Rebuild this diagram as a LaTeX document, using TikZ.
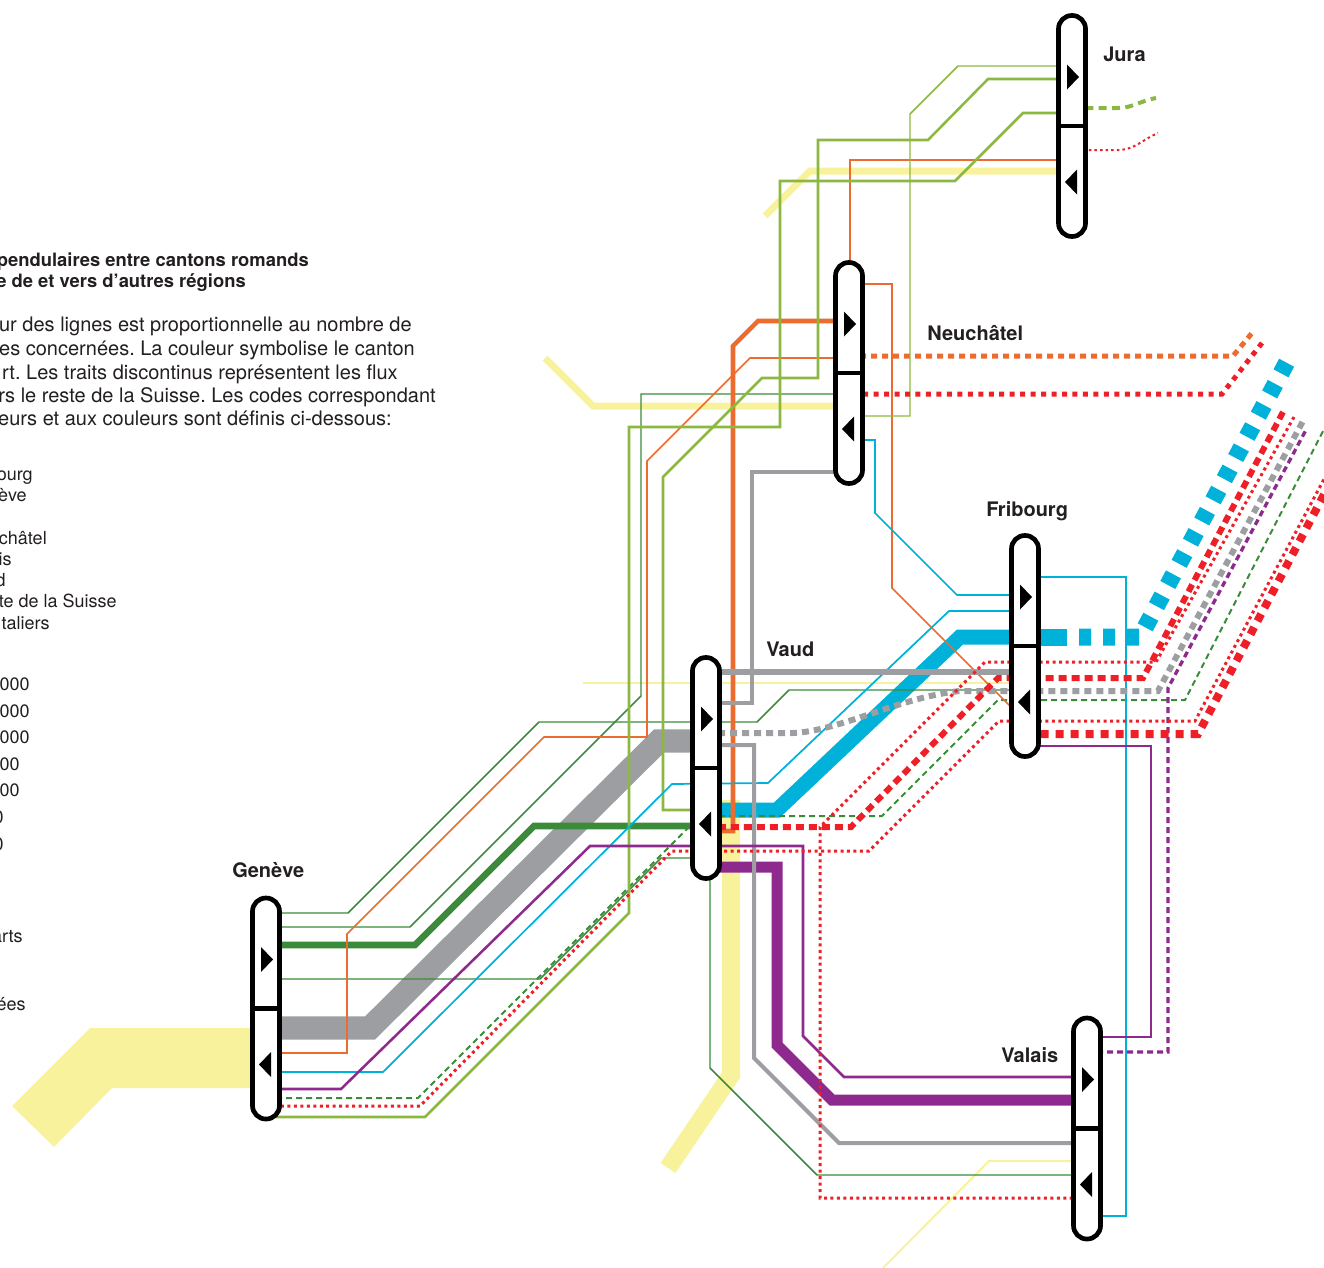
\documentclass[tikz,border=0pt]{standalone}
\usepackage{fontspec}
\setmainfont{TeX Gyre Heros}
\frenchspacing
\definecolor{cGE}{HTML}{3B8C3A}
\definecolor{cJU}{HTML}{8CB842}
\definecolor{cNE}{HTML}{EC6C2F}
\definecolor{cFR}{HTML}{00B1D9}
\definecolor{cVD}{HTML}{9D9EA1}
\definecolor{cVS}{HTML}{8E2A8E}
\definecolor{cCH}{HTML}{EE1F26}
\definecolor{cFT}{HTML}{F9F29C}
\definecolor{ctext}{HTML}{231F20}
\tikzset{
  cbox/.style={draw=black, line width=3.5pt, fill=white, rounded corners=10pt,
    minimum width=20.25pt, minimum height=165.75pt, inner sep=0pt, outer sep=0pt},
  lab/.style={font=\bfseries\fontsize{15}{18}\selectfont, text=ctext, inner sep=0pt, anchor=west},
  btitle/.style={font=\bfseries\fontsize{13.8}{16}\selectfont, text=ctext, inner sep=0pt, anchor=base east},
  body/.style={font=\fontsize{15}{18}\selectfont, text=ctext, inner sep=0pt, anchor=base east},
  entry/.style={font=\fontsize{13.5}{16}\selectfont, text=ctext, inner sep=0pt, anchor=base east},
  dotsm/.style={line width=2.25pt, dash pattern=on 2.25pt off 2.6pt},
}
\newcommand\cmarks[1]{%
  \draw[line width=3.5pt] (#1.west) -- (#1.east);
  \fill[shift={(#1.center)}] (-5,-61.5) -- (7,-49) -- (-5,-36.5) -- cycle;
  \fill[shift={(#1.center)}] (5,43.5) -- (-7,56) -- (5,68.5) -- cycle;
}
\begin{document}
\begin{tikzpicture}[x=0.75pt,y=-0.75pt,line join=miter,line cap=butt]
\useasboundingbox (0,0) rectangle (1324,1267);
\clip (0,0) rectangle (1324,1267);

% ---------- frontaliers ----------
\fill[cFT] (266,1028) -- (90,1028) -- (12,1106) -- (54,1147) -- (112,1088) -- (266,1088) -- cycle;
\draw[cFT, line width=5.25pt] (765,216) -- (810,171) -- (1072,171);
\draw[cFT, line width=5.25pt] (545,358) -- (593,406) -- (849,406);
\draw[cFT, line width=13.5pt] (731,800) -- (731,1075) -- (668,1168);
\draw[cFT, line width=1.5pt] (583,683) -- (1025,683);
\draw[cFT, line width=1.5pt] (883,1268) -- (989,1161) -- (1087,1161);

% ---------- thick flows ----------
\draw[cVD, line width=17.6pt] (266,1028) -- (370,1028) -- (659,741) -- (706,741);
\draw[cFR, line width=11.25pt] (1025,637) -- (960,637) -- (777,810) -- (706,810);
\draw[cVS, line width=8.25pt] (1087,1100) -- (832,1100) -- (777,1045) -- (777,867) -- (706,867);

% ---------- Geneve ----------
\draw[cGE, line width=1.1pt] (266,913) -- (348,913) -- (539,722) -- (757,722) -- (789,690) -- (1025,690);
\draw[cGE, line width=1.1pt] (266,927) -- (410,927) -- (641,696) -- (641,394) -- (849,394);
\draw[cGE, line width=5pt] (266,945) -- (415,945) -- (534,826) -- (706,826);
\draw[cGE, line width=1.1pt] (266,979) -- (540,979) -- (661,858) -- (710,858) -- (710,1068) -- (817,1175) -- (1087,1175);
\draw[cGE, line width=1.5pt, dash pattern=on 4.5pt off 3pt] (266,1098) -- (418,1098) -- (700,816) -- (882,816) -- (998,700) -- (1185,700) -- (1340,398);

% ---------- Neuchatel ----------
\draw[cNE, line width=3.4pt] (849,321) -- (758,321) -- (733,346) -- (733,831) -- (706,831);
\draw[cNE, line width=1.3pt] (849,358) -- (750,358) -- (647,461) -- (647,737) -- (544,737) -- (347,934) -- (347,1053) -- (266,1053);
\draw[cNE, line width=1.3pt] (850,270) -- (850,160) -- (1072,160);
\draw[cNE, line width=1.3pt] (849,284) -- (892,284) -- (892,588) -- (1025,721);
\draw[cNE, line width=3.75pt, dash pattern=on 4.5pt off 3.75pt] (849,356) -- (1233,356) -- (1252,333);

% ---------- Jura ----------
\draw[cJU, line width=1.1pt] (1072,66) -- (958,66) -- (910,114) -- (910,416) -- (849,416);
\draw[cJU, line width=1.9pt] (1072,79) -- (988,79) -- (928,140) -- (818,140) -- (818,378) -- (762,378) -- (663,477) -- (663,810) -- (706,810);
\draw[cJU, line width=1.9pt] (1072,113) -- (1023,113) -- (955,181) -- (780,181) -- (780,427) -- (629,427) -- (629,913) -- (425,1117) -- (266,1117);
\draw[cJU, line width=3pt, dash pattern=on 6pt off 4pt] (1072,108) -- (1118,108) .. controls (1132,108) and (1140,101) .. (1156,98);
\draw[cCH, line width=1.5pt, dash pattern=on 1.9pt off 2.3pt] (1072,150) -- (1120,150) .. controls (1135,149) and (1142,140) .. (1158,133);

% ---------- Fribourg ----------
\draw[cFR, line width=1.3pt] (1025,595) -- (957,595) -- (875,513) -- (875,440) -- (849,440);
\draw[cFR, line width=1.3pt] (1025,611) -- (949,611) -- (768,783) -- (672,784) -- (383,1072) -- (266,1072);
\draw[cFR, line width=1.3pt] (1025,577) -- (1126,577) -- (1126,1216) -- (1087,1216);
\draw[cFR, line width=12.75pt] (1025,637) -- (1067,637);
\draw[cFR, line width=12.75pt, dash pattern=on 9pt off 9pt, dash phase=9pt] (1067,637) -- (1140,637) -- (1287,362);

% ---------- Vaud ----------
\draw[cVD, line width=4.1pt] (706,672) -- (1025,672);
\draw[cVD, line width=2.5pt] (706,703) -- (752,703) -- (752,472) -- (849,472);
\draw[cVD, line width=3pt] (706,745) -- (754,745) -- (754,1058) -- (839,1143) -- (1087,1143);
\draw[cVD, line width=4.5pt, dash pattern=on 5.25pt off 3.75pt] (706,733) -- (793,733) .. controls (840,731) and (900,697) .. (960,691) -- (1158,691) -- (1303,421);

% ---------- Valais ----------
\draw[cVS, line width=1.9pt] (1087,1077) -- (844,1077) -- (803,1036) -- (803,846) -- (590,846) -- (341,1089) -- (266,1089);
\draw[cVS, line width=1.5pt] (1087,1037) -- (1151,1037) -- (1151,746) -- (1025,746);
\draw[cVS, line width=2.5pt, dash pattern=on 4.5pt off 3pt] (1087,1052) -- (1168,1052) -- (1168,688) -- (1307,428);

% ---------- reste de la Suisse ----------
\draw[cCH, line width=3.75pt, dash pattern=on 3.75pt off 4.1pt] (1262,343) -- (1222,394) -- (849,394);
\draw[cCH, dotsm] (1294,417) -- (1156,662) -- (985,662) -- (820,827) -- (820,1198) -- (1087,1198);
\draw[cCH, line width=4.5pt, dash pattern=on 6pt off 3.75pt] (1283,412) -- (1143,678) -- (998,678) -- (851,827) -- (706,827);
\draw[cCH, dotsm] (1339,451) -- (1195,721) -- (999,721) -- (869,851) -- (672,851) -- (420,1106) -- (266,1106);
\draw[cCH, line width=6pt, dash pattern=on 6pt off 5.25pt] (1338,468) -- (1198,734) -- (1025,734);

% ---------- canton boxes ----------
\node[cbox] (JU) at (1072,126) {};
\node[cbox] (NE) at (849,373) {};
\node[cbox] (FR) at (1025,646) {};
\node[cbox] (VD) at (706,768) {};
\node[cbox] (GE) at (266,1008.5) {};
\node[cbox] (VS) at (1087,1128.5) {};
\cmarks{JU}\cmarks{NE}\cmarks{FR}\cmarks{VD}\cmarks{GE}\cmarks{VS}

% ---------- labels ----------
\node[lab] (lJU) at (1103,54) {Jura};
\node[lab] (lNE) at (927,333) {Neuchâtel};
\node[lab] (lFR) at (986,511) {Fribourg};
\node[lab] (lVD) at (766,649) {Vaud};
\node[lab] (lGE) at (232,870) {Genève};
\node[lab] (lVS) at (1001,1055) {Valais};

% ---------- legend text (cut at the left edge) ----------
\node[btitle] (t1) at (309,266) {pendulaires entre cantons romands};
\node[btitle] (t2) at (246,287) {e de et vers d’autres régions};
\node[body] (t3) at (412,331) {ur des lignes est proportionnelle au nombre de};
\node[body] (t4) at (415,355) {es concernées. La couleur symbolise le canton};
\node[body] (t5) at (398,379) {rt. Les traits discontinus représentent les flux};
\node[body] (t6) at (436,402) {rs le reste de la Suisse. Les codes correspondant};
\node[body] (t7) at (392,425) {eurs et aux couleurs sont définis ci-dessous:};
\node[entry] (e1) at (33,480) {ourg};
\node[entry] (e2) at (27,501) {ève};
\node[entry] (e3) at (47,544) {châtel};
\node[entry] (e4) at (12,565) {is};
\node[entry] (e5) at (6,586) {d};
\node[entry] (e6) at (117,607) {te de la Suisse};
\node[entry] (e7) at (50,629) {taliers};
\node[entry] (n1) at (30,690) {000};
\node[entry] (n2) at (30,717) {000};
\node[entry] (n3) at (30,743) {000};
\node[entry] (n4) at (20,770) {00};
\node[entry] (n5) at (20,796) {00};
\node[entry] (n6) at (4,823) {0};
\node[entry] (n7) at (4,850) {0};
\node[entry] (e8) at (23,942) {arts};
\node[entry] (e9) at (26,1010) {ées};
\end{tikzpicture}
\end{document}
